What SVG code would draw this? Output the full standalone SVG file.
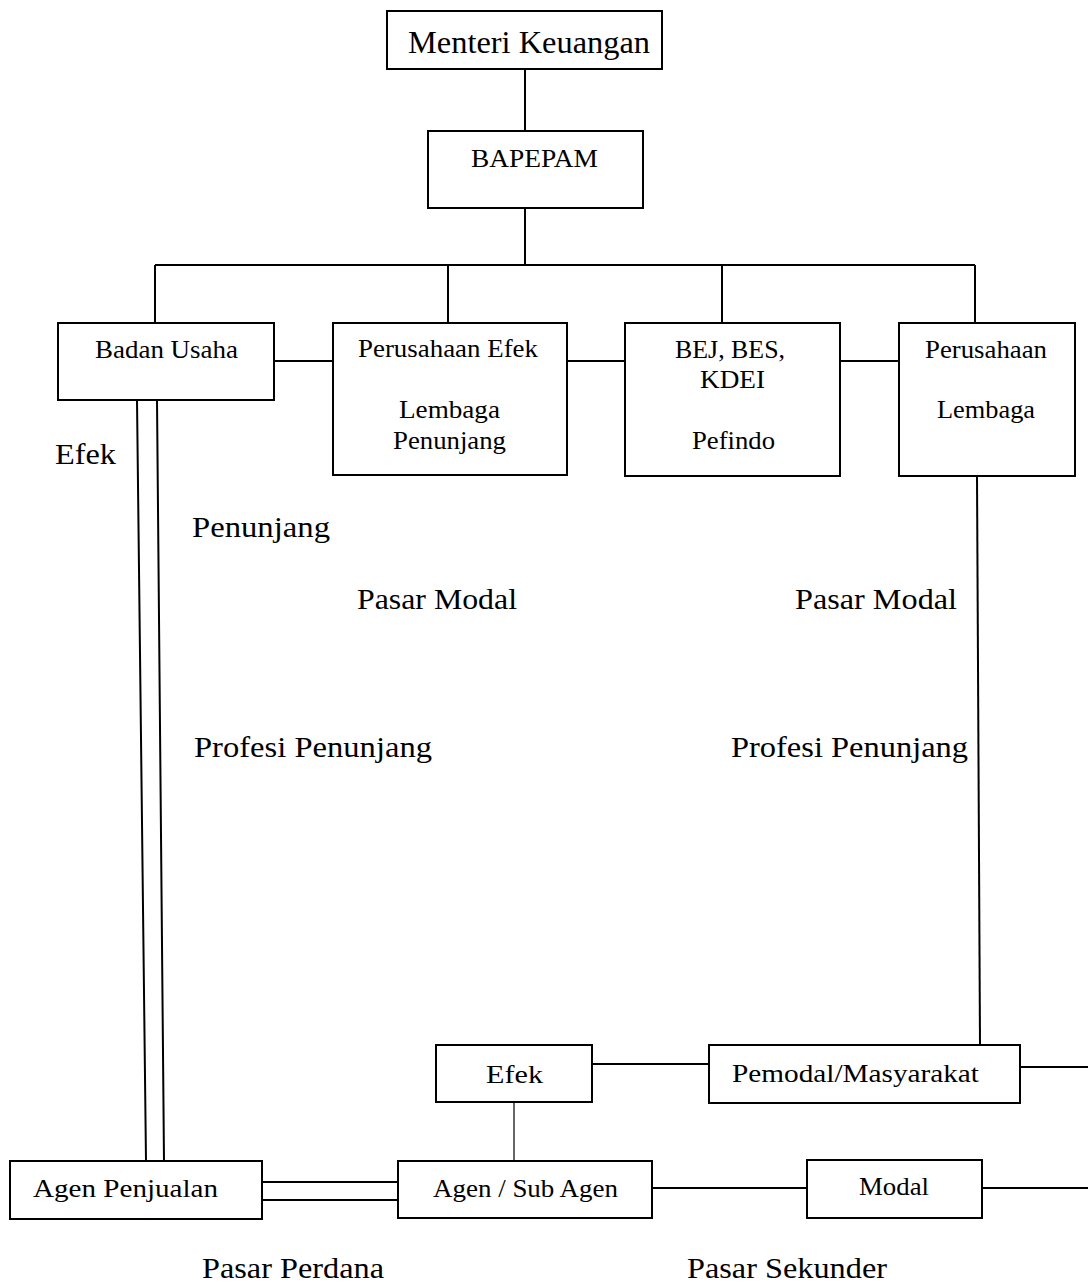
<svg xmlns="http://www.w3.org/2000/svg" width="1088" height="1284" viewBox="0 0 1088 1284">
<style>
.box{fill:#fff;stroke:#000;stroke-width:2}
.ln{fill:none;stroke:#000;stroke-width:2}
.thin{fill:none;stroke:#000;stroke-width:1.2}
text{font-family:"Liberation Serif","Times New Roman",serif;fill:#000}
.bt{font-size:26px}
.lt{font-size:29px}
.big{font-size:31px}
</style>
<rect width="1088" height="1284" fill="#fff"/>
<g id="connectors">
<path class="ln" d="M525 69V131"/>
<path class="ln" d="M525 208V265"/>
<path class="ln" d="M155 265H975"/>
<path class="ln" d="M155 265V323M448 265V323M722 265V323M975 265V323"/>
<path class="ln" d="M274 361H333M567 361H625M840 361H899"/>
<path class="ln" d="M137 400L146 1161M157 400L164 1161"/>
<path class="ln" d="M263 1182H398M263 1200H398"/>
<path class="thin" d="M514 1102V1161"/>
<path class="ln" d="M592 1064H709"/>
<path class="ln" d="M1020 1067H1088"/>
<path class="ln" d="M977 476L980 1045"/>
<path class="ln" d="M652 1188H807"/>
<path class="ln" d="M982 1188H1088"/>
</g>
<g id="menteri"><rect class="box" x="387" y="11" width="275" height="58"/><text class="big" x="408" y="53" textLength="242" lengthAdjust="spacingAndGlyphs">Menteri Keuangan</text></g>
<g id="bapepam"><rect class="box" x="428" y="131" width="215" height="77"/><text class="bt" x="471" y="167" textLength="127" lengthAdjust="spacingAndGlyphs">BAPEPAM</text></g>
<g id="badan-usaha"><rect class="box" x="58" y="323" width="216" height="77"/><text class="bt" x="95" y="358" textLength="143" lengthAdjust="spacingAndGlyphs">Badan Usaha</text></g>
<g id="perusahaan-efek"><rect class="box" x="333" y="323" width="234" height="152"/>
<text class="bt" x="358" y="357" textLength="180" lengthAdjust="spacingAndGlyphs">Perusahaan Efek</text>
<text class="bt" x="399" y="418" textLength="101" lengthAdjust="spacingAndGlyphs">Lembaga</text>
<text class="bt" x="393" y="449" textLength="113" lengthAdjust="spacingAndGlyphs">Penunjang</text></g>
<g id="bej"><rect class="box" x="625" y="323" width="215" height="153"/>
<text class="bt" x="675" y="358" textLength="110" lengthAdjust="spacingAndGlyphs">BEJ, BES,</text>
<text class="bt" x="700" y="388" textLength="65" lengthAdjust="spacingAndGlyphs">KDEI</text>
<text class="bt" x="692" y="449" textLength="83" lengthAdjust="spacingAndGlyphs">Pefindo</text></g>
<g id="perusahaan"><rect class="box" x="899" y="323" width="176" height="153"/>
<text class="bt" x="925" y="358" textLength="122" lengthAdjust="spacingAndGlyphs">Perusahaan</text>
<text class="bt" x="937" y="418" textLength="98" lengthAdjust="spacingAndGlyphs">Lembaga</text></g>
<g id="labels">
<text class="lt" x="55" y="464" textLength="61" lengthAdjust="spacingAndGlyphs">Efek</text>
<text class="lt" x="192" y="537" textLength="138" lengthAdjust="spacingAndGlyphs">Penunjang</text>
<text class="lt" x="357" y="609" textLength="160" lengthAdjust="spacingAndGlyphs">Pasar Modal</text>
<text class="lt" x="795" y="609" textLength="162" lengthAdjust="spacingAndGlyphs">Pasar Modal</text>
<text class="lt" x="194" y="757" textLength="238" lengthAdjust="spacingAndGlyphs">Profesi Penunjang</text>
<text class="lt" x="731" y="757" textLength="237" lengthAdjust="spacingAndGlyphs">Profesi Penunjang</text>
<text class="lt" x="202" y="1278" textLength="182" lengthAdjust="spacingAndGlyphs">Pasar Perdana</text>
<text class="lt" x="687" y="1278" textLength="200" lengthAdjust="spacingAndGlyphs">Pasar Sekunder</text>
</g>
<g id="efek"><rect class="box" x="436" y="1045" width="156" height="57"/><text class="bt" x="486" y="1083" textLength="57" lengthAdjust="spacingAndGlyphs">Efek</text></g>
<g id="pemodal"><rect class="box" x="709" y="1045" width="311" height="58"/><text class="bt" x="732" y="1082" textLength="247" lengthAdjust="spacingAndGlyphs">Pemodal/Masyarakat</text></g>
<g id="agen-penjualan"><rect class="box" x="10" y="1161" width="252" height="58"/><text class="bt" x="33" y="1197" textLength="185" lengthAdjust="spacingAndGlyphs">Agen Penjualan</text></g>
<g id="agen-sub"><rect class="box" x="398" y="1161" width="254" height="57"/><text class="bt" x="433" y="1197" textLength="185" lengthAdjust="spacingAndGlyphs">Agen / Sub Agen</text></g>
<g id="modal"><rect class="box" x="807" y="1160" width="175" height="58"/><text class="bt" x="859" y="1195" textLength="70" lengthAdjust="spacingAndGlyphs">Modal</text></g>
</svg>
